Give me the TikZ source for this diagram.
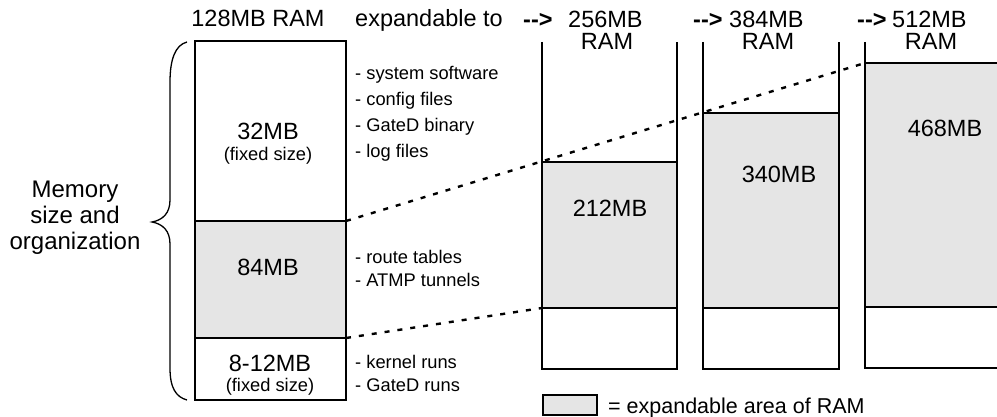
\documentclass[tikz,border=0pt]{standalone}
\usepackage{fontspec}
\setmainfont{Liberation Sans}
\usetikzlibrary{positioning}

\definecolor{expandgray}{gray}{0.9}

\tikzset{
  wall/.style={line width=2.6pt},
  expand/.style={fill=expandgray},
  dots/.style={line width=2.4pt, dash pattern=on 5pt off 8pt},
  big/.style={font=\fontsize{23.5}{26}\selectfont, inner sep=0pt, anchor=base},
  small/.style={font=\fontsize{18.3}{21}\selectfont, inner sep=0pt, anchor=base},
  item/.style={small, anchor=base west},
}

\begin{document}
\begin{tikzpicture}[x=1pt, y=-1pt]
\useasboundingbox (0,0) rectangle (997,417);

% headings
\node[big] (ram-128) at (258,27) {128MB RAM};
\node[big, anchor=base west] (exp-to) at (355,27) {expandable to};

% 128MB block
\coordinate (m-84-top) at (346,221);
\coordinate (m-84-bot) at (346,338);
\fill[expand] (195,221) rectangle (346,338);
\draw[wall] (195,41) rectangle (346,400);
\draw[wall] (195,221) -- (m-84-top);
\draw[wall] (195,338) -- (m-84-bot);

\node[big] (m-32) at (268,140) {32MB};
\node[small] (m-32-fix) at (268,161) {(fixed size)};
\node[big] (m-84) at (268,276) {84MB};
\node[big] (m-8) at (270,371) {8-12MB};
\node[small] (m-8-fix) at (270,391) {(fixed size)};

\node[item] (i-sys) at (355,80) {- system software};
\node[item] (i-cfg) at (355,106) {- config files};
\node[item] (i-bin) at (355,132) {- GateD binary};
\node[item] (i-log) at (355,158) {- log files};
\node[item] (i-rt) at (355,263) {- route tables};
\node[item] (i-atmp) at (355,287) {- ATMP tunnels};
\node[item] (i-kern) at (355,368) {- kernel runs};
\node[item] (i-gd) at (355,391) {- GateD runs};

% brace and caption
\draw[line width=1.3pt] (187,42) .. controls (175,45) and (170,60) .. (170,82)
  -- (170,200) .. controls (170,213) and (163,220) .. (152,222)
  .. controls (163,224) and (170,231) .. (170,244)
  -- (170,368) .. controls (170,388) and (176,397) .. (187,400);
\node[big, font=\fontsize{24}{26}\selectfont] (mem-1) at (75,198) {Memory};
\node[big, font=\fontsize{24}{26}\selectfont] (mem-2) at (75,223) {size and};
\node[big, font=\fontsize{24}{26}\selectfont] (mem-3) at (75,249) {organization};

% 256MB column
\coordinate (c-256-top) at (542,162);
\coordinate (c-256-bot) at (542,308);
\fill[expand] (542,162) rectangle (677,308);
\draw[wall] (542,42) -- (542,369) -- (677,369) -- (677,42);
\draw[wall] (c-256-top) -- (677,162);
\draw[wall] (c-256-bot) -- (677,308);
\node[big, anchor=base west] (arr-256) at (523,28) {\textbf{-{}->}};
\node[big, anchor=base west] (h-256) at (568,28) {256MB};
\node[big] (r-256) at (607,50) {RAM};
\node[big] (s-256) at (610,217) {212MB};

% 384MB column
\fill[expand] (703,113) rectangle (839,308);
\draw[wall] (703,42) -- (703,369) -- (839,369) -- (839,42);
\draw[wall] (703,113) -- (839,113);
\draw[wall] (703,308) -- (839,308);
\node[big, anchor=base west] (arr-384) at (693,28) {\textbf{-{}->}};
\node[big, anchor=base west] (h-384) at (729,28) {384MB};
\node[big] (r-384) at (768,50) {RAM};
\node[big] (s-384) at (779,183) {340MB};

% 512MB column
\coordinate (c-512-top) at (865,63);
\fill[expand] (865,63) rectangle (1002,307);
\draw[wall] (865,42) -- (865,368) -- (1002,368);
\draw[wall] (c-512-top) -- (1002,63);
\draw[wall] (865,307) -- (1002,307);
\node[big, anchor=base west] (arr-512) at (857,28) {\textbf{-{}->}};
\node[big, anchor=base west] (h-512) at (892,28) {512MB};
\node[big] (r-512) at (931,50) {RAM};
\node[big] (s-512) at (945,137) {468MB};

% growth of the expandable area
\draw[dots] (m-84-top) -- (c-512-top);
\draw[dots] (m-84-bot) -- (c-256-bot);

% legend
\draw[wall, expand] (543,395) rectangle (597,415);
\node[small, anchor=base west, font=\fontsize{21.5}{24}\selectfont] (legend) at (608,413) {= expandable area of RAM};

\end{tikzpicture}
\end{document}
